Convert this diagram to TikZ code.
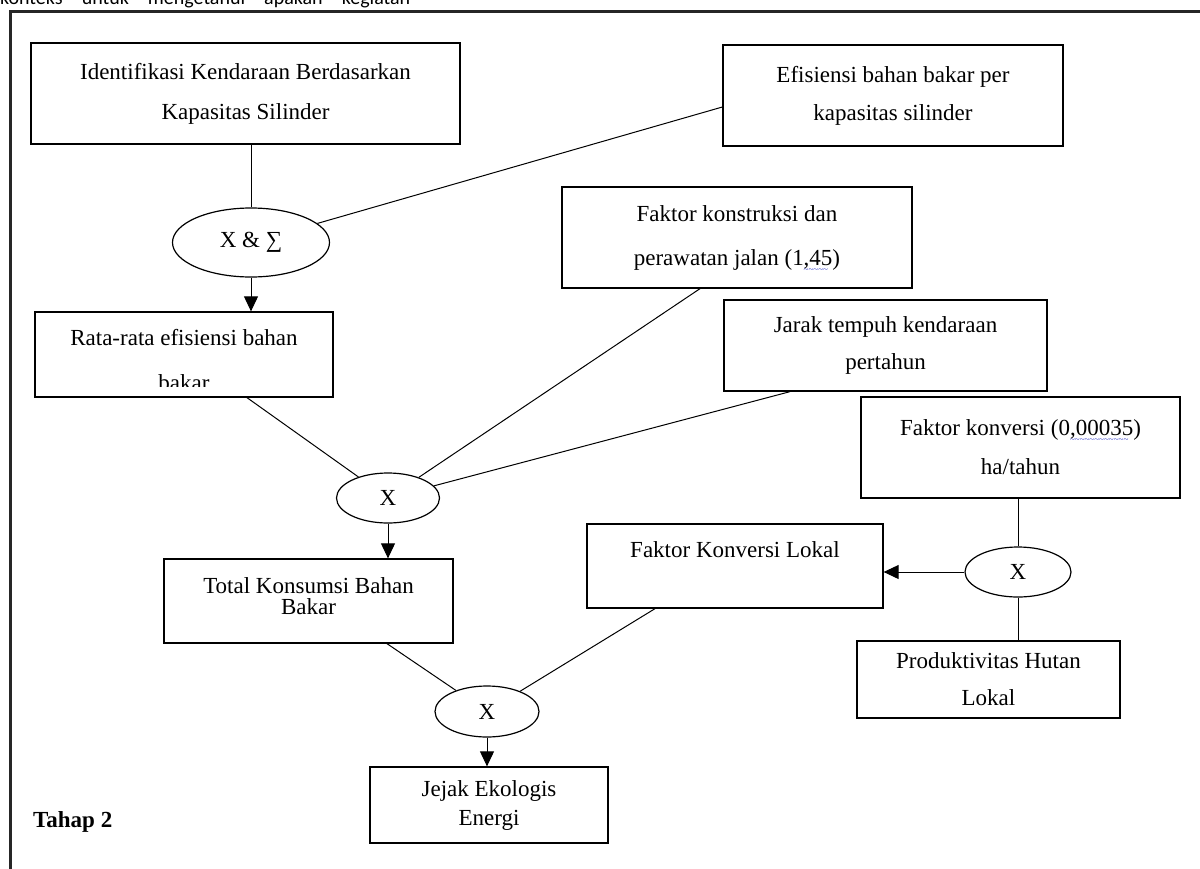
\documentclass[tikz,border=0pt]{standalone}
\usepackage{fontspec}
\setmainfont{Liberation Serif}
\newfontfamily\calib{Carlito}
\usetikzlibrary{shapes.geometric,arrows.meta,calc}
\definecolor{squig}{RGB}{50,60,200}
\newcommand\squig[1]{\setbox0\hbox{#1}\rlap{\color{squig}\raisebox{-7pt}[0pt][0pt]{\hbox to \wd0{\fontsize{9}{9}\selectfont\leaders\hbox{\char`\~}\hfill}}}#1}
\begin{document}
\begin{tikzpicture}[x=1pt,y=-1pt,
  box/.style={draw, line width=1.3pt, inner sep=0pt, align=center},
  oval/.style={draw, ellipse, line width=1.2pt, inner sep=0pt, font=\fontsize{23}{28}\selectfont},
  link/.style={line width=1pt},
  arr/.style={line width=1pt, -{Triangle[length=15pt,width=14pt]}},
  txt/.style={inner sep=0pt, font=\fontsize{23}{28}\selectfont}]
\useasboundingbox (0,0) rectangle (1200,868);
% frame
\draw[line width=3pt, black!85] (1210,11) -- (10,11) -- (10,880);
% cut-off text at top
\node[anchor=base west, inner sep=0pt, font=\calib\fontsize{20}{24}\selectfont] (top) at (0,4)
  {\makebox[410pt][s]{konteks untuk mengetahui apakah kegiatan}};
% boxes
\node[box, minimum width=429pt, minimum height=101pt, font=\fontsize{23}{40}\selectfont] (b1) at (245.5,93.5)
  {Identifikasi Kendaraan Berdasarkan\\Kapasitas Silinder};
\node[box, minimum width=340pt, minimum height=101pt, font=\fontsize{23}{38}\selectfont] (b2) at (893,95.5)
  {Efisiensi bahan bakar per\\kapasitas silinder};
\node[oval, minimum width=157pt, minimum height=69pt] (e1) at (251,242.5) {X \& ∑};
\node[box, minimum width=298pt, minimum height=85pt] (b4) at (184,354.5) {};
\begin{scope}
  \clip (b4.north west) rectangle ($(b4.south east)+(0,-11)$);
  \node[txt, anchor=base] (t4a) at (184,345) {Rata-rata efisiensi bahan};
  \node[txt, anchor=base] (t4b) at (184,390) {bakar};
\end{scope}
\node[box, minimum width=350pt, minimum height=101pt, font=\fontsize{23}{44}\selectfont] (b5) at (737,237.5)
  {Faktor konstruksi dan\\perawatan jalan (1\squig{,45})};
\node[box, minimum width=323pt, minimum height=91pt, font=\fontsize{23}{37}\selectfont] (b6) at (885.5,345.5)
  {Jarak tempuh kendaraan\\pertahun};
\node[oval, minimum width=103pt, minimum height=50pt] (e2) at (388,498) {X};
\node[box, minimum width=289pt, minimum height=84pt] (b8) at (308.5,601) {};
\node[txt, anchor=base] (t8a) at (308.5,593) {Total Konsumsi Bahan};
\node[txt, anchor=base] (t8b) at (308.5,614) {Bakar};
\node[box, minimum width=296pt, minimum height=84pt, font=\fontsize{23}{28}\selectfont,
  text height=16pt, text depth=34pt] (b9) at (735,566) {Faktor Konversi Lokal};
\node[box, minimum width=319pt, minimum height=101pt, font=\fontsize{23}{39}\selectfont] (b10) at (1020.5,447.5)
  {Faktor konversi (0\squig{,00035})\\ha/tahun};
\node[oval, minimum width=106pt, minimum height=50pt] (e3) at (1018,572) {X};
\node[box, minimum width=263pt, minimum height=77pt, font=\fontsize{23}{37}\selectfont] (b12) at (988.5,679.5)
  {Produktivitas Hutan\\Lokal};
\node[oval, minimum width=104pt, minimum height=51pt] (e4) at (487,711.5) {X};
\node[box, minimum width=238pt, minimum height=76pt, font=\fontsize{23}{29}\selectfont] (b13) at (489,805)
  {Jejak Ekologis\\Energi};
\node[txt, anchor=base west, font=\bfseries\fontsize{23}{28}\selectfont] (tahap) at (33,827) {Tahap 2};
% connectors
\draw[link] (b1.south -| e1.north) -- (e1.north);
\draw[link] (e1) -- ($(b2.west)+(0,11.5)$);
\draw[arr] (e1.south) -- (e1.south |- b4.north);
\draw[link] ($(b4.south)+(63,0)$) -- (e2);
\draw[link] ($(b5.south)+(-37,0)$) -- (e2);
\draw[link] ($(b6.south)+(-95.5,0)$) -- (e2);
\draw[arr] (e2.south) -- (e2.south |- b8.north);
\draw[link] ($(b8.south)+(78.5,0)$) -- (e4);
\draw[link] ($(b9.south)+(-80,0)$) -- (e4);
\draw[arr] (e4.south) -- (e4.south |- b13.north);
\draw[link] (b10.south -| e3.north) -- (e3.north);
\draw[link] (e3.south) -- (e3.south |- b12.north);
\draw[arr] (e3.west) -- (e3.west -| b9.east);
\end{tikzpicture}
\end{document}
